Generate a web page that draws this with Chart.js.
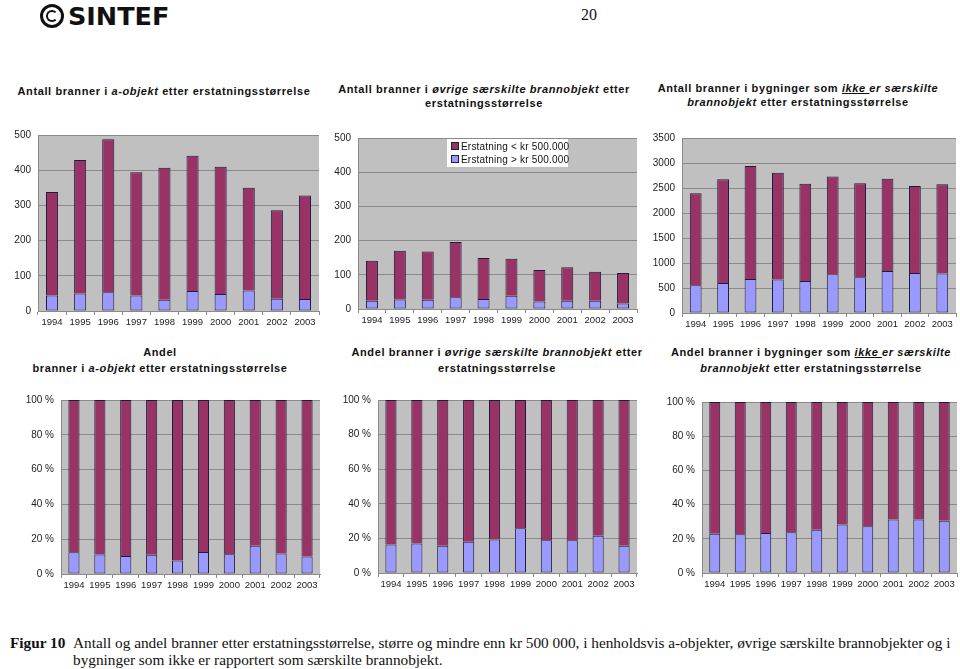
<!DOCTYPE html>
<html>
<head>
<meta charset="utf-8">
<script src="https://cdn.jsdelivr.net/npm/chart.js@4.4.1/dist/chart.umd.min.js"></script>
<style>
  body { margin: 0; background: #fff; width: 960px; height: 669px; position: relative; overflow: hidden; font-family: "Liberation Sans", Arial, sans-serif; }
  canvas { position: absolute; }
  .t { position: absolute; width: 340px; text-align: center; font-size: 11px; font-weight: bold; letter-spacing: 0.6px; line-height: 14px; color: #111; }
  .b { line-height: 16px; }
  .u { text-decoration: underline; }
  #legend { position: absolute; left: 447px; top: 139px; width: 121px; height: 28px; background: #fff; font-size: 10px; letter-spacing: 0.2px; color: #111; }
  #legend div { position: absolute; left: 4px; height: 13px; line-height: 13px; white-space: nowrap; }
  #legend span { display: inline-block; width: 6px; height: 6px; border: 1px solid #222; margin-right: 2px; vertical-align: 0px; }
  #caption { position: absolute; left: 10px; top: 634px; font-family: "Liberation Serif", "Times New Roman", serif; font-size: 15.3px; line-height: 17px; color: #111; }
</style>
</head>
<body>

<div style="position:absolute;left:40px;top:4px;width:18px;height:18px;border:3px solid #111;border-radius:50%;"></div>
<div style="position:absolute;left:46px;top:10px;width:8px;height:8px;border:2px solid #111;border-radius:50%;border-right-color:transparent;"></div>
<div style="position:absolute;left:68px;top:1px;font-family:'DejaVu Sans';font-weight:bold;font-size:25.5px;color:#111;">SINTEF</div>
<div style="position:absolute;left:581px;top:6px;font-family:'Liberation Serif';font-size:16px;color:#111;">20</div>

<div class="t" style="left:-6px;top:84px;">Antall branner i <i>a-objekt</i> etter erstatningsstørrelse</div>
<div class="t" style="left:314px;top:82px;">Antall branner i <i>øvrige særskilte brannobjekt</i> etter<br>erstatningsstørrelse</div>
<div class="t" style="left:628px;top:81px;">Antall branner i bygninger som <i><span class="u">ikke </span> er særskilte</i><br><i>brannobjekt</i> etter erstatningsstørrelse</div>

<div class="t b" style="left:-10px;top:344px;">Andel<br>branner i <i>a-objekt</i> etter erstatningsstørrelse</div>
<div class="t b" style="left:327px;top:344px;">Andel branner i <i>øvrige særskilte brannobjekt</i> etter<br>erstatningsstørrelse</div>
<div class="t b" style="left:641px;top:344px;">Andel branner i bygninger som <i><span class="u">ikke </span> er særskilte</i><br><i>brannobjekt</i> etter erstatningsstørrelse</div>

<canvas id="c1"></canvas>
<canvas id="c2"></canvas>
<canvas id="c3"></canvas>
<canvas id="c4"></canvas>
<canvas id="c5"></canvas>
<canvas id="c6"></canvas>

<div id="legend"></div>

<div id="caption"><b>Figur 10</b><span style="position:absolute;left:63px;top:0;width:900px;">Antall og andel branner etter erstatningsstørrelse, større og mindre enn kr 500 000, i henholdsvis a-objekter, øvrige særskilte brannobjekter og i<br>bygninger som ikke er rapportert som særskilte brannobjekt.</span></div>

<script>
var years = ['1994', '1995', '1996', '1997', '1998', '1999', '2000', '2001', '2002', '2003'];
var seriesNames = ['Erstatning < kr 500.000', 'Erstatning > kr 500.000'];

// antall branner
var aObjUnder = [294, 379, 435, 350, 375, 384, 362, 292, 251, 294];
var aObjOver = [44, 50, 53, 44, 32, 57, 48, 58, 35, 34];
var ovrigeUnder = [117, 142, 141, 162, 120, 108, 92, 98, 85, 89];
var ovrigeOver = [24, 28, 27, 34, 29, 39, 22, 24, 24, 16];
var ikkeUnder = [1841, 2073, 2260, 2131, 1944, 1957, 1879, 1847, 1737, 1789];
var ikkeOver = [555, 600, 678, 672, 639, 775, 717, 839, 801, 788];

// andel branner (%)
var aObjUnderPct = [87.5, 88.8, 89.6, 89.0, 92.2, 87.3, 88.6, 83.8, 88.2, 89.9];
var aObjOverPct = [12.5, 11.2, 10.4, 11.0, 7.8, 12.7, 11.4, 16.2, 11.8, 10.1];
var ovrigeUnderPct = [83.5, 82.9, 84.2, 82.0, 80.7, 74.1, 81.0, 81.0, 78.4, 84.2];
var ovrigeOverPct = [16.5, 17.1, 15.8, 18.0, 19.3, 25.9, 19.0, 19.0, 21.6, 15.8];
var ikkeUnderPct = [77.0, 77.4, 76.6, 76.2, 74.7, 71.7, 72.6, 68.7, 68.7, 69.4];
var ikkeOverPct = [23.0, 22.6, 23.4, 23.8, 25.3, 28.3, 27.4, 31.3, 31.3, 30.6];

var maroon = '#993366';
var blue = '#9999ff';

var plotBg = {
  id: 'plotBg',
  beforeDraw: function (chart) {
    var a = chart.chartArea;
    chart.ctx.save();
    chart.ctx.fillStyle = '#c0c0c0';
    chart.ctx.fillRect(a.left, a.top, a.right - a.left, a.bottom - a.top);
    chart.ctx.restore();
  }
};

// left = canvas left, box = plot area [left, top, right, bottom]
function barChart(id, left, box, under, over, max, step, pct) {
  var cv = document.getElementById(id);
  var top = box[1] - 8;
  var w = box[2] - left + 4;
  var h = box[3] - top + 22;
  cv.width = w; cv.height = h;
  cv.style.left = left + 'px'; cv.style.top = top + 'px';
  cv.style.width = w + 'px'; cv.style.height = h + 'px';
  var yW = box[0] - left;

  new Chart(cv, {
    type: 'bar',
    data: {
      labels: years,
      datasets: [
        { label: seriesNames[1], data: over, backgroundColor: blue, borderColor: '#1c1c3c', borderWidth: 1, borderSkipped: false },
        { label: seriesNames[0], data: under, backgroundColor: maroon, borderColor: '#1c1c3c', borderWidth: 1, borderSkipped: 'bottom' }
      ]
    },
    options: {
      responsive: false,
      animation: false,
      layout: { padding: { top: 8, right: 4, left: 0, bottom: 0 } },
      plugins: { legend: { display: false }, tooltip: { enabled: false } },
      datasets: { bar: { categoryPercentage: 1, barPercentage: 0.43 } },
      scales: {
        x: {
          stacked: true,
          afterFit: function (s) { s.height = 22; },
          grid: { drawOnChartArea: false, drawTicks: true, tickLength: 4, color: '#8a8a8a' },
          border: { color: '#8a8a8a' },
          ticks: { padding: 2, color: '#222', font: { family: 'Liberation Sans', size: 9.5 }, maxRotation: 0 }
        },
        y: {
          stacked: true,
          min: 0, max: max,
          afterFit: function (s) { s.width = yW; },
          grid: { color: '#8a8a8a', drawTicks: false },
          border: { color: '#8a8a8a' },
          ticks: {
            stepSize: step, padding: 7, color: '#222',
            font: { family: 'Liberation Sans', size: 10 },
            callback: function (v) { return pct ? v + ' %' : v; }
          }
        }
      }
    },
    plugins: [plotBg]
  });
}

barChart('c1', 0, [38, 130, 319, 311], aObjUnder, aObjOver, 500, 100, false);
barChart('c2', 325, [358, 133, 637, 309], ovrigeUnder, ovrigeOver, 500, 100, false);
barChart('c3', 644, [682, 133, 956, 313], ikkeUnder, ikkeOver, 3500, 500, false);
barChart('c4', 10, [61, 395, 320, 574], aObjUnderPct, aObjOverPct, 100, 20, true);
barChart('c5', 330, [378, 395, 637, 573], ovrigeUnderPct, ovrigeOverPct, 100, 20, true);
barChart('c6', 652, [702, 397, 957, 573], ikkeUnderPct, ikkeOverPct, 100, 20, true);

// legend for the middle chart
var lg = document.getElementById('legend');
lg.innerHTML =
  '<div style="top:1px"><span style="background:' + maroon + '"></span>' + seriesNames[0].replace('<', '&lt;') + '</div>' +
  '<div style="top:14px"><span style="background:' + blue + '"></span>' + seriesNames[1].replace('>', '&gt;') + '</div>';
</script>
</body>
</html>
